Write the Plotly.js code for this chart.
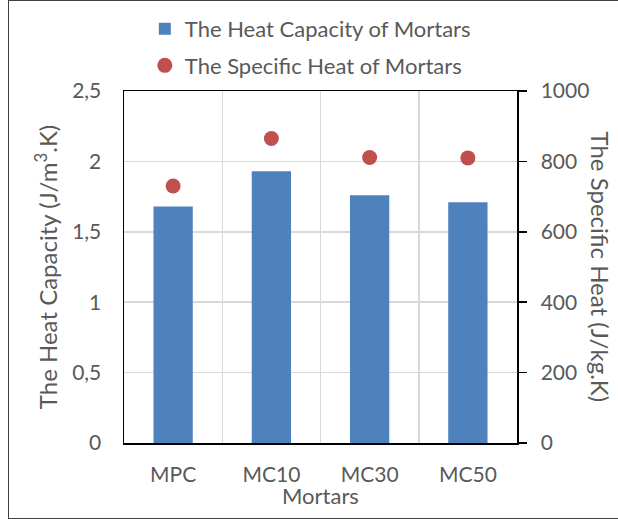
<!DOCTYPE html>
<html>
<head>
<meta charset="utf-8">
<script src="https://cdn.plot.ly/plotly-3.0.1.min.js"></script>
<style>
  html, body { margin: 0; padding: 0; background: #fff; }
  #wrap { position: relative; width: 618px; height: 519px; }
  #chart { position: absolute; left: 0; top: 0; width: 618px; height: 519px; }
  #frame { position: absolute; left: 8px; top: 0px; width: 620px; height: 517px; border: 1.5px solid #404040; pointer-events: none; }
</style>
</head>
<body>
<div id="wrap">
  <div id="chart"></div>
  <div id="frame"></div>
</div>
<script>
const categories = ["MPC", "MC10", "MC30", "MC50"];
const heatCapacity = [1.68, 1.93, 1.76, 1.71];
const specificHeat = [730, 865, 811, 810];
const heatCapacityName = "The Heat Capacity of Mortars";
const specificHeatName = "The Specific Heat of Mortars";

const FONT = "Lato, Carlito, Calibri, sans-serif";
const GRAY = "#595959";
const TICK = 21;
const BIG = 22;
const TITLE = 24;

const traces = [
  {
    type: "bar", x: categories, y: heatCapacity, name: heatCapacityName,
    marker: { color: "#4F81BD" }, legendgroup: "a", yaxis: "y"
  },
  {
    type: "scatter", mode: "markers", x: categories, y: specificHeat, name: specificHeatName,
    marker: { color: "#C0504D", size: 15 }, legendgroup: "b", yaxis: "y2"
  }
];

const layout = {
  width: 618, height: 519,
  margin: { l: 124, r: 101, t: 91, b: 76, autoexpand: false },
  paper_bgcolor: "#fff", plot_bgcolor: "#fff",
  font: { family: FONT, size: TICK, color: GRAY },
  separators: ", ",
  bargap: 0.6,
  showlegend: true,
  legend: {
    orientation: "v", x: 0.053, xanchor: "left", y: 1.236, yanchor: "top",
    font: { family: FONT, size: BIG, color: GRAY },
    tracegroupgap: 5, itemwidth: 30, bgcolor: "rgba(0,0,0,0)"
  },
  xaxis: {
    type: "category", tickson: "boundaries",
    showgrid: true, gridcolor: "#D9D9D9", gridwidth: 1.5,
    showline: true, linecolor: "#000", linewidth: 1.5, mirror: true,
    ticks: "", ticklabelstandoff: 12,
    tickfont: { family: FONT, size: TICK, color: GRAY }
  },
  yaxis: {
    range: [0, 2.5], dtick: 0.5, tick0: 0,
    showgrid: true, gridcolor: "#D9D9D9", gridwidth: 1.5,
    showline: true, linecolor: "#000", linewidth: 1.5, mirror: true,
    ticks: "", ticklabelstandoff: 17, zeroline: false,
    tickfont: { family: FONT, size: TICK, color: GRAY }
  },
  yaxis2: {
    range: [0, 1000], dtick: 200, tick0: 0, overlaying: "y", side: "right",
    showgrid: false, zeroline: false,
    showline: true, linecolor: "#000", linewidth: 1.5,
    ticks: "outside", ticklen: 8, tickcolor: "#000", tickwidth: 1.5,
    ticklabelstandoff: 10,
    tickfont: { family: FONT, size: TICK, color: GRAY }
  },
  annotations: [
    {
      text: "The Heat Capacity (J/m<sup>3</sup>.K)", xref: "paper", yref: "paper",
      x: -0.198, y: 0.5, xanchor: "center", yanchor: "middle", textangle: -90, showarrow: false,
      font: { family: FONT, size: TITLE, color: GRAY }
    },
    {
      text: "The Specific Heat (J/kg.K)", xref: "paper", yref: "paper",
      x: 1.215, y: 0.5, xanchor: "center", yanchor: "middle", textangle: 90, showarrow: false,
      font: { family: FONT, size: TITLE, color: GRAY }
    },
    {
      text: "Mortars", xref: "paper", yref: "paper",
      x: 0.5, y: -0.148, xanchor: "center", yanchor: "middle", showarrow: false,
      font: { family: FONT, size: BIG, color: GRAY }
    }
  ]
};

Plotly.newPlot("chart", traces, layout, { displayModeBar: false, staticPlot: true });
</script>
</body>
</html>
